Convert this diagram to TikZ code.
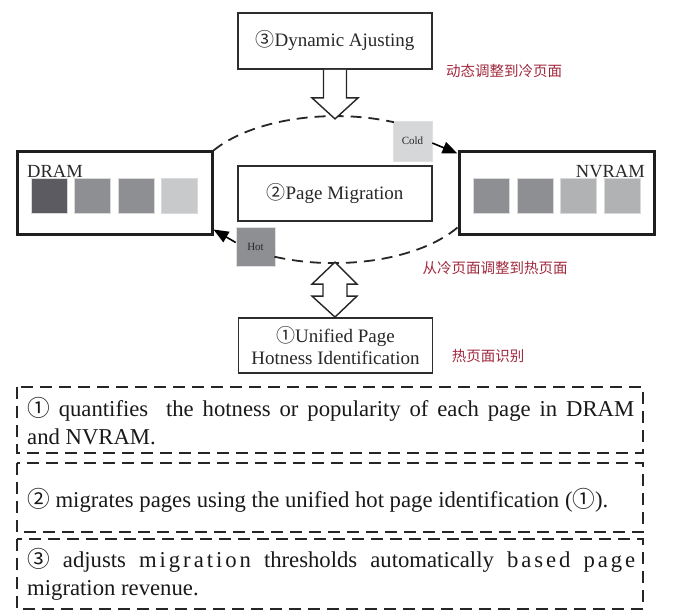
\documentclass[tikz,border=0pt]{standalone}
\usepackage{fontspec}
\setmainfont{Liberation Serif}
\newfontfamily\cjk{Noto Sans CJK SC}
\usetikzlibrary{arrows.meta,calc}
\definecolor{labred}{RGB}{160,40,60}
\definecolor{boxline}{RGB}{45,45,45}
\definecolor{txtgray}{RGB}{40,40,40}
\definecolor{pgA}{RGB}{91,91,97}
\definecolor{pgB}{RGB}{142,143,147}
\definecolor{pgC}{RGB}{200,201,203}
\definecolor{pgD}{RGB}{177,178,180}
\definecolor{coldfill}{RGB}{214,215,217}
\newcommand\circA{{\cjk ①}}
\newcommand\circB{{\cjk ②}}
\newcommand\circC{{\cjk ③}}
\newcommand\lsp{\addfontfeatures{LetterSpace=13}}
\tikzset{
  mainbox/.style={draw=boxline, line width=1.8pt, fill=white, minimum width=194pt,
    minimum height=56pt, inner sep=0pt, text=txtgray, align=center,
    font=\fontsize{19}{22}\selectfont},
  membox/.style={draw=black!88, line width=3pt, fill=white, minimum width=195pt,
    minimum height=83pt, inner sep=0pt},
  pagebox/.style={draw=black!15, line width=0.6pt, minimum width=36pt, minimum height=35pt, inner sep=0pt},
  tagbox/.style={draw=black!12, line width=0.6pt, minimum width=39pt, minimum height=39pt,
    inner sep=0pt, text=txtgray, font=\fontsize{11}{12}\selectfont},
  memlabel/.style={inner sep=0pt, text=txtgray, font=\fontsize{18.5}{20}\selectfont},
  redlabel/.style={inner sep=0pt, text=labred, font=\cjk\fontsize{14.5}{16}\selectfont},
  ringarc/.style={draw=black!85, line width=1.8pt, dash pattern=on 11pt off 7pt},
  tiparrow/.style={draw=black, line width=1.6pt, -{Triangle[length=15pt,width=12pt]}},
  blockarrow/.style={draw=black!85, line width=1.4pt, fill=white, line join=miter},
  notebox/.style={draw=black!85, line width=1.8pt, dash pattern=on 12pt off 7pt},
  notetext/.style={anchor=base west, inner sep=0pt, text=black!90,
    font=\fontsize{22.7}{28}\selectfont}
}
\begin{document}
\begin{tikzpicture}[x=1pt,y=-1pt]
\useasboundingbox (0,0) rectangle (681,615);
% main boxes
\node[mainbox] (top) at (335,41) {\circC Dynamic Ajusting};
\node[mainbox, minimum height=55pt] (mig) at (335,193.5) {\circB Page Migration};
\node[mainbox, minimum height=55pt] (uni) at (335.5,345.5) {\circA Unified Page\\Hotness Identification};
% memories
\node[membox] (dram) at (114.5,193.5) {};
\node[membox] (nvram) at (556.5,193.5) {};
\node[pagebox, fill=pgA] (d1) at (49.3,195.8) {};
\node[pagebox, fill=pgB] (d2) at (92.5,195.8) {};
\node[pagebox, fill=pgB] (d3) at (136.3,195.8) {};
\node[pagebox, fill=pgC] (d4) at (179.7,195.8) {};
\node[pagebox, fill=pgB] (n1) at (491.7,195.5) {};
\node[pagebox, fill=pgB] (n2) at (535,195.5) {};
\node[pagebox, fill=pgD] (n3) at (578.7,195.5) {};
\node[pagebox, fill=pgD] (n4) at (622,195.5) {};
\node[memlabel, anchor=base west] (dramlab) at (27,178) {DRAM};
\node[memlabel, anchor=base east] (nvramlab) at (645,178) {NVRAM};
% tags
\node[tagbox, fill=coldfill, minimum height=40pt] (cold) at (412.5,141) {Cold};
\node[tagbox, fill=pgB] (hot) at (255.5,246.5) {Hot};
% red notes
\node[redlabel] (rl1) at (504,71) {动态调整到冷页面};
\node[redlabel] (rl2) at (495,268) {从冷页面调整到热页面};
\node[redlabel] (rl3) at (488,356) {热页面识别};
% dashed ring
\draw[ringarc] (dram.north east) arc[start angle=148.3, end angle=66.3, x radius=144pt, y radius=72.5pt];
\draw[ringarc] ($(nvram.west)+(0,34)$) arc[start angle=-30.6, end angle=-114.6, x radius=144pt, y radius=72.5pt];
% arrows
\draw[tiparrow] ($(cold.east)+(0,2)$) -- ($(nvram.north west)+(0,3)$);
\draw[tiparrow] ($(hot.west)+(0,-4)$) -- ($(dram.south east)+(0,-7)$);
% block arrows
\draw[blockarrow] ($(top.south)+(-11.5,0)$) -- ++(0,28) -- ++(-11.5,0) -- ++(23,21) -- ++(23,-21) -- ++(-11.5,0) -- ++(0,-28);
\draw[blockarrow] ($(uni.north)+(-0.5,-55)$) coordinate (dtip) -- ++(22,22) -- ++(-10,0) -- ++(0,12) -- ++(10,0) -- ($(uni.north)+(-0.5,0)$) -- ++(-23,-21) -- ++(11,0) -- ++(0,-12) -- ++(-11,0) -- cycle;
% note boxes
\draw[notebox] (17,387) rectangle (643,453);
\draw[notebox] (17,463) rectangle (643,532);
\draw[notebox] (17,539) rectangle (643,609);
\node[notetext] (t1a) at (27,416) {\makebox[607pt][s]{\circA\ quantifies~\ the hotness or popularity of each page in DRAM}};
\node[notetext] (t1b) at (27,444) {and NVRAM.};
\node[notetext] (t2) at (27,507) {\circB\ migrates pages using the unified hot page identification (\circA).};
\node[notetext] (t3a) at (27,567) {\makebox[608pt][s]{\circC\ adjusts {\lsp migration} thresholds automatically {\lsp based} {\lsp page}}};
\node[notetext] (t3b) at (27,595) {migration revenue.};
\end{tikzpicture}
\end{document}
